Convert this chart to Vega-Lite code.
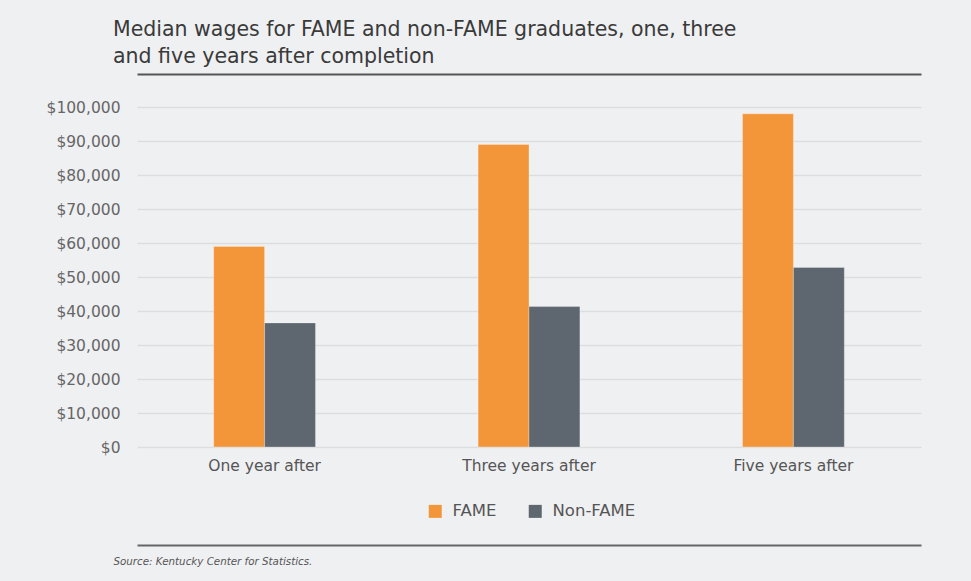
{
  "$schema": "https://vega.github.io/schema/vega-lite/v6.json",
  "width": 784,
  "height": 340,
  "autosize": {"type": "none"},
  "padding": {"left": 137, "top": 107, "right": 50, "bottom": 134},
  "background": "#eff0f2",
  "title": {
    "text": ["Median wages for FAME and non-FAME graduates, one, three", "and five years after completion"],
    "anchor": "start",
    "frame": "group",
    "dx": -24,
    "offset": 7,
    "fontSize": 20.5,
    "font": "DejaVu Sans",
    "fontWeight": "normal",
    "color": "#3a3a3a",
    "lineHeight": 27
  },
  "data": {
    "values": [
      {"period": "One year after", "group": "FAME", "wage": 59000},
      {"period": "One year after", "group": "Non-FAME", "wage": 36500},
      {"period": "Three years after", "group": "FAME", "wage": 89000},
      {"period": "Three years after", "group": "Non-FAME", "wage": 41300},
      {"period": "Five years after", "group": "FAME", "wage": 98000},
      {"period": "Five years after", "group": "Non-FAME", "wage": 52800}
    ]
  },
  "layer": [
    {
      "mark": {"type": "bar", "stroke": "#ffffff", "strokeOpacity": 0.35, "strokeWidth": 0.8},
      "encoding": {
        "x": {
          "field": "period",
          "type": "nominal",
          "sort": ["One year after", "Three years after", "Five years after"],
          "scale": {"paddingInner": 0.615, "paddingOuter": 0.29},
          "axis": {
            "orient": "bottom",
            "title": null,
            "domain": false,
            "ticks": false,
            "labelAngle": 0,
            "labelPadding": 11,
            "labelFont": "DejaVu Sans",
            "labelFontSize": 15.5,
            "labelColor": "#555555"
          }
        },
        "xOffset": {"field": "group", "type": "nominal", "sort": ["FAME", "Non-FAME"]},
        "y": {
          "field": "wage",
          "type": "quantitative",
          "scale": {"domain": [0, 100000], "nice": false},
          "axis": {
            "title": null,
            "values": [0, 10000, 20000, 30000, 40000, 50000, 60000, 70000, 80000, 90000, 100000],
            "format": "$,.0f",
            "domain": false,
            "ticks": false,
            "labelPadding": 17,
            "labelFont": "DejaVu Sans",
            "labelFontSize": 15.5,
            "labelColor": "#666666",
            "gridColor": "#dcdddf",
            "gridWidth": 1.5
          }
        },
        "color": {
          "field": "group",
          "type": "nominal",
          "sort": ["FAME", "Non-FAME"],
          "scale": {"domain": ["FAME", "Non-FAME"], "range": ["#f3963a", "#5e6770"]},
          "legend": {
            "title": null,
            "orient": "none",
            "direction": "horizontal",
            "legendX": 290,
            "legendY": 396,
            "symbolType": "square",
            "symbolSize": 169,
            "symbolStrokeWidth": 0,
            "labelFont": "DejaVu Sans",
            "labelFontSize": 16.5,
            "labelColor": "#555555",
            "labelOffset": 9,
            "columnPadding": 30
          }
        }
      }
    },
    {
      "mark": {"type": "bar", "opacity": 0},
      "encoding": {
        "x": {
          "field": "period",
          "type": "nominal",
          "sort": ["One year after", "Three years after", "Five years after"],
          "axis": {
            "orient": "top",
            "offset": 33,
            "title": null,
            "labels": false,
            "ticks": false,
            "grid": false,
            "domain": true,
            "domainColor": "#555555",
            "domainWidth": 2
          }
        }
      }
    },
    {
      "mark": {"type": "bar", "opacity": 0},
      "encoding": {
        "x": {
          "field": "period",
          "type": "nominal",
          "sort": ["One year after", "Three years after", "Five years after"],
          "axis": {
            "orient": "bottom",
            "offset": 98,
            "labels": false,
            "ticks": false,
            "grid": false,
            "domain": true,
            "domainColor": "#666666",
            "domainWidth": 2,
            "title": "Source: Kentucky Center for Statistics.",
            "titleFont": "DejaVu Sans",
            "titleFontSize": 10.3,
            "titleFontStyle": "italic",
            "titleFontWeight": "normal",
            "titleColor": "#555555",
            "titleAnchor": "start",
            "titleAlign": "left",
            "titleX": -24,
            "titleY": 19,
            "titleBaseline": "alphabetic"
          }
        }
      }
    }
  ],
  "resolve": {"axis": {"x": "independent"}},
  "config": {"view": {"stroke": null}, "font": "DejaVu Sans"}
}
